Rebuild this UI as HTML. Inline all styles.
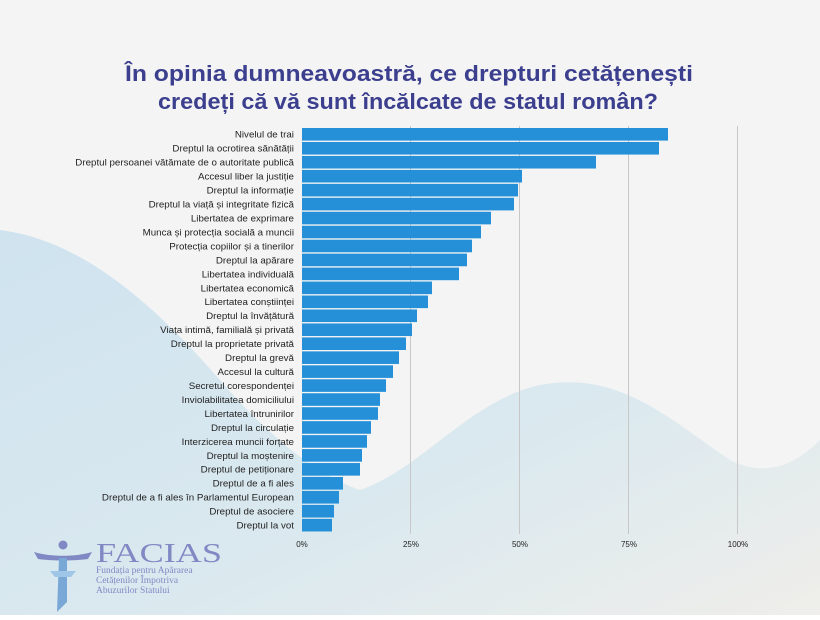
<!DOCTYPE html>
<html><head><meta charset="utf-8"><style>
body{margin:0;width:820px;height:615px;overflow:hidden;font-family:"Liberation Sans",sans-serif;}
</style></head><body>
<svg width="820" height="615" viewBox="0 0 820 615" xmlns="http://www.w3.org/2000/svg">
<defs>
<linearGradient id="bg" x1="0" y1="0" x2="1" y2="1">
<stop offset="0" stop-color="#cfe3ef"/><stop offset="0.6" stop-color="#dbe9ef"/><stop offset="1" stop-color="#efeeea"/>
</linearGradient>
</defs>
<rect width="820" height="615" fill="#f4f4f4"/>
<path d="M0,230 C60,250 120,330 200,420 C260,490 300,560 380,615 L0,615 Z" fill="url(#bg)"/>
<path d="M0,230 C80,240 150,300 220,380 C280,450 330,480 360,490 C420,470 470,400 540,385 C620,370 670,420 730,460 C770,480 800,460 820,440 L820,615 L0,615 Z" fill="url(#bg)"/>
<text x="125" y="81" textLength="568" lengthAdjust="spacingAndGlyphs" font-size="22" font-weight="bold" fill="#3b3f8e">În opinia dumneavoastră, ce drepturi cetățenești</text>
<text x="158" y="109" textLength="500" lengthAdjust="spacingAndGlyphs" font-size="22" font-weight="bold" fill="#3b3f8e">credeți că vă sunt încălcate de statul român?</text>
<g stroke="#c8c8c8" stroke-width="1">
<line x1="410.5" y1="126" x2="410.5" y2="534"/><line x1="519.5" y1="126" x2="519.5" y2="534"/><line x1="628.5" y1="126" x2="628.5" y2="534"/><line x1="737.5" y1="126" x2="737.5" y2="534"/>
</g>
<g font-size="8" fill="#222" text-anchor="middle">
<text x="302" y="547">0%</text><text x="411" y="547">25%</text><text x="520" y="547">50%</text><text x="629" y="547">75%</text><text x="738" y="547">100%</text>
</g>
<g id="bars" fill="#2590d8"></g>
<g id="labels" font-size="9.3" fill="#222" text-anchor="end"></g>
<g fill="#8189c4">
<circle cx="63" cy="545" r="4.5"/>
<path d="M34,552 C50,557 76,557 92,552 L88,559 C74,561 52,561 38,559Z"/>
<path d="M59,558 L67,558 L67,602 L57,612 Z" fill="#7aa8d6"/>
<path d="M50,571 L76,571 L71,577 L55,577Z" fill="#9fc6e6"/>
</g>
<text x="96" y="562" textLength="126" lengthAdjust="spacingAndGlyphs" font-family="Liberation Serif,serif" font-size="27" fill="#8189c4">FACIAS</text>
<g font-family="Liberation Serif,serif" font-size="9.5" fill="#8189c4">
<text x="96" y="573">Fundația pentru Apărarea</text>
<text x="96" y="583">Cetățenilor Împotriva</text>
<text x="96" y="593">Abuzurilor Statului</text>
</g>
</svg>
<script>
const L=["Nivelul de trai","Dreptul la ocrotirea sănătății","Dreptul persoanei vătămate de o autoritate publică","Accesul liber la justiție","Dreptul la informație","Dreptul la viață și integritate fizică","Libertatea de exprimare","Munca și protecția socială a muncii","Protecția copiilor și a tinerilor","Dreptul la apărare","Libertatea individuală","Libertatea economică","Libertatea conștiinței","Dreptul la învățătură","Viața intimă, familială și privată","Dreptul la proprietate privată","Dreptul la grevă","Accesul la cultură","Secretul corespondenței","Inviolabilitatea domiciliului","Libertatea întrunirilor","Dreptul la circulație","Interzicerea muncii forțate","Dreptul la moștenire","Dreptul de petiționare","Dreptul de a fi ales","Dreptul de a fi ales în Parlamentul European","Dreptul de asociere","Dreptul la vot"];
const E=[668,659,596,522,518,514,491,481,472,467,459,432,428,417,412,406,399,393,386,380,378,371,367,362,360,343,339,334,332];
const ns="http://www.w3.org/2000/svg";const b=document.getElementById("bars"),t=document.getElementById("labels");
L.forEach((s,i)=>{const y=128+i*13.96;
const r=document.createElementNS(ns,"rect");r.setAttribute("x",302);r.setAttribute("y",y);r.setAttribute("width",E[i]-302);r.setAttribute("height",12.6);b.appendChild(r);
const x=document.createElementNS(ns,"text");x.setAttribute("x",294);x.setAttribute("y",y+9.7);x.textContent=s;t.appendChild(x);
const w=x.getComputedTextLength();x.setAttribute("textLength",w*1.05);x.setAttribute("lengthAdjust","spacingAndGlyphs");});
</script>
</body></html>
